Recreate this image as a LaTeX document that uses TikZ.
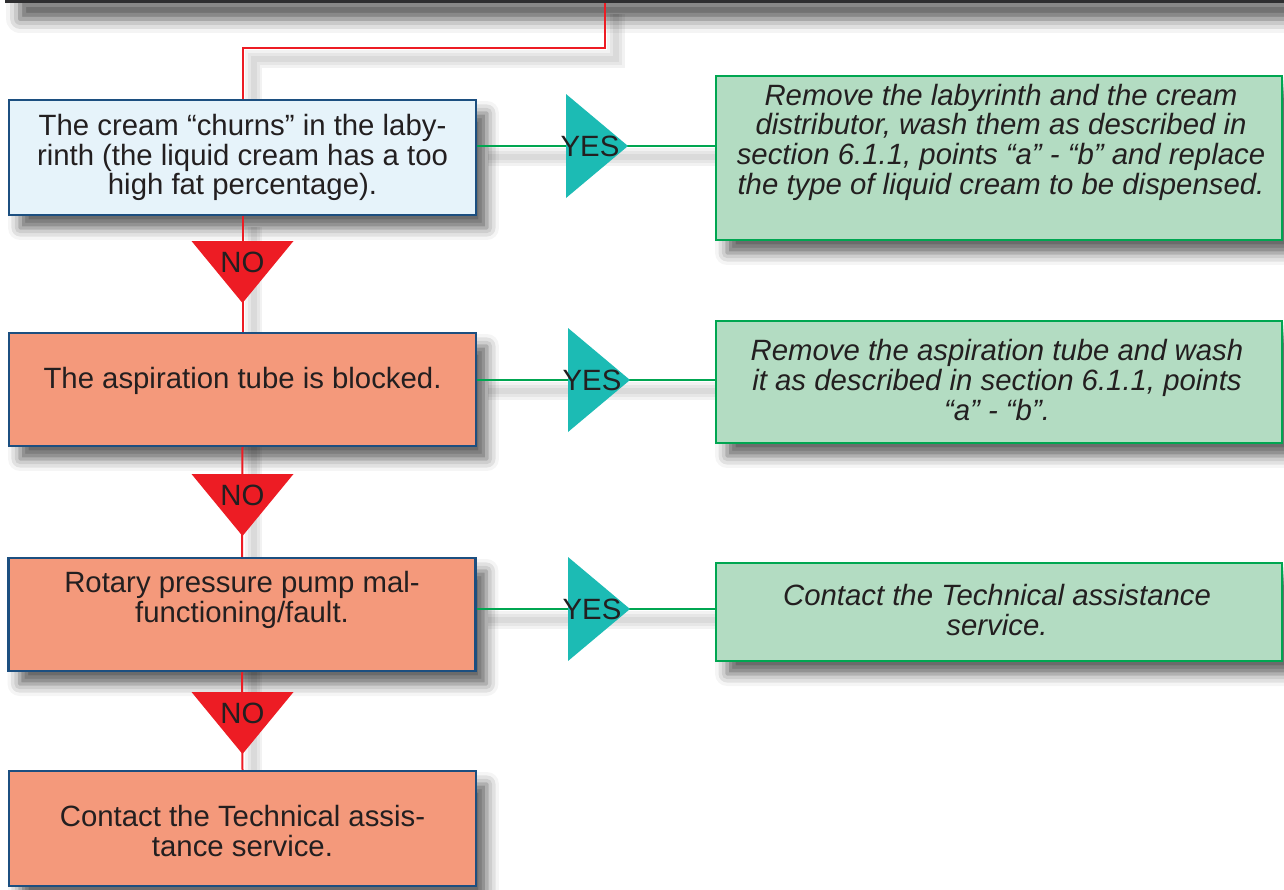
\documentclass[tikz,border=0pt]{standalone}
\usepackage{fontspec}
\setmainfont{Liberation Sans}
\usetikzlibrary{shadows.blur,backgrounds}
\definecolor{fcblue}{HTML}{1C4F80}
\definecolor{fcpale}{HTML}{E6F3FA}
\definecolor{fcsalmon}{HTML}{F4997B}
\definecolor{fcgreen}{HTML}{00A651}
\definecolor{fcmint}{HTML}{B3DCC2}
\definecolor{fcred}{HTML}{ED1C24}
\definecolor{fcteal}{HTML}{1CBBB4}
\definecolor{fcink}{HTML}{231F20}
\definecolor{fcbar}{HTML}{2E2E30}

\begin{document}
\begin{tikzpicture}[x=0.02cm,y=-0.02cm,
  shade/.style={blur shadow={shadow xshift=0.22cm,shadow yshift=-0.26cm,
            shadow blur radius=0.24cm,shadow opacity=62}},
  cause/.style={draw=fcblue,line width=0.05cm,fill=fcsalmon,inner sep=0pt,
            minimum width=9.34cm,shade},
  act/.style={draw=fcgreen,line width=0.05cm,fill=fcmint,inner sep=0pt,
            minimum width=11.32cm,shade},
  txt/.style={align=center,text=fcink,inner sep=0pt,
            font=\fontsize{16.7pt}{16.9pt}\selectfont},
  itxt/.style={txt,font=\fontsize{16.7pt}{16.9pt}\selectfont\itshape},
  noline/.style={draw=fcred,line width=0.04cm},
  yesline/.style={draw=fcgreen,line width=0.04cm},
  lshade/.style={draw=black,line width=#1cm,opacity=0.05,
            transform canvas={shift={(0.22cm,-0.22cm)}}}
]
\useasboundingbox (0,0) rectangle (1284,889);

% header bar and feed line
\node[fill=fcbar,inner sep=0pt,minimum width=25.58cm,minimum height=0.36cm,
      blur shadow={shadow xshift=0.3cm,shadow yshift=-0.32cm,shadow blur radius=0.28cm,shadow opacity=68}]
      (bar) at (644.5,-6) {};
\coordinate (feed) at (605,3);

% causes
\node[cause,fill=fcpale,minimum height=2.30cm] (c1) at (242.5,157.5) {};
\node[cause,minimum height=2.26cm] (c2) at (242.5,389.5) {};
\node[cause,minimum height=2.26cm] (c3) at (242,614.5) {};
\node[cause,minimum height=2.30cm] (c4) at (242.5,828.5) {};
\node[txt] (c1t) at (242.5,157.5) {The cream “churns” in the laby-\\rinth (the liquid cream has a too\\high fat percentage).};
\node[txt] (c2t) at (242.5,381) {The aspiration tube is blocked.};
\node[txt] (c3t) at (242,600) {Rotary pressure pump mal-\\functioning/fault.};
\node[txt] (c4t) at (242.5,831) {Contact the Technical assis-\\tance service.};

% actions
\node[act,minimum height=3.28cm] (a1) at (999,158) {};
\node[act,minimum height=2.44cm] (a2) at (999,382) {};
\node[act,minimum height=1.96cm] (a3) at (999,612) {};
\node[itxt] (a1t) at (1001,142) {Remove the labyrinth and the cream\\distributor, wash them as described in\\section 6.1.1, points “a” - “b” and replace\\the type of liquid cream to be dispensed.};
\node[itxt] (a2t) at (997,380) {Remove the aspiration tube and wash\\it as described in section 6.1.1, points\\“a” - “b”.};
\node[itxt] (a3t) at (997,610) {Contact the Technical assistance\\service.};

\coordinate (y1) at (590,146);
\coordinate (y2) at (592,380);
\coordinate (y3) at (592,609);
\coordinate (n1) at (242.5,262);
\coordinate (n2) at (242.5,495);
\coordinate (n3) at (242.5,713);

% soft shadows of the connectors
\begin{scope}[on background layer]
  \foreach \w in {0.36,0.24,0.12}{
    \draw[lshade=\w] (feed) -- ++(0,45) -| (c1.north);
    \draw[lshade=\w] (c1.south) -- (c4.north);
    \foreach \i in {1,2,3}
      \draw[lshade=\w] (c\i.east |- y\i) -- (a\i.west |- y\i);
  }
\end{scope}

% connectors
\draw[noline] (feed) -- ++(0,45) -| (c1.north);
\draw[noline] (c1.south) -- (c2.north);
\draw[noline] (c2.south) -- (c3.north);
\draw[noline] (c3.south) -- (c4.north);
\foreach \i in {1,2,3}
  \draw[yesline] (c\i.east |- y\i) -- (a\i.west |- y\i);

% answer marks
\foreach \i in {1,2,3}{
  \fill[fcred] (n\i) ++(-51,-21) -- ++(102,0) -- ++(-51,62) -- cycle;
  \fill[fcteal] (y\i) ++(-24,-52) -- ++(62,52) -- ++(-62,52) -- cycle;
}
\node[txt] (no1) at (n1) {NO};
\node[txt] (no2) at (n2) {NO};
\node[txt] (no3) at (n3) {NO};
\node[txt] (yes1) at (y1) {YES};
\node[txt] (yes2) at (y2) {YES};
\node[txt] (yes3) at (y3) {YES};
\end{tikzpicture}
\end{document}
